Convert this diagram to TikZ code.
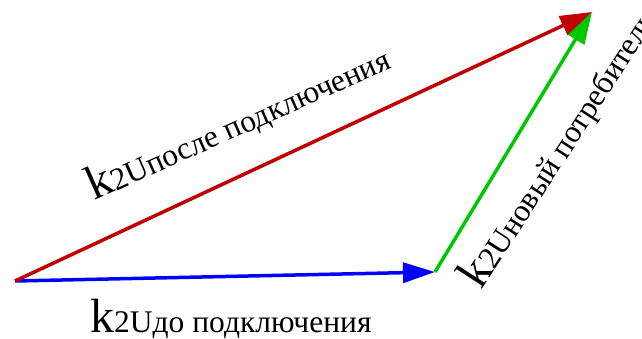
\documentclass[tikz,border=0pt]{standalone}
\usepackage{fontspec}
\setmainfont{Liberation Serif}
\usetikzlibrary{arrows.meta}
\definecolor{vred}{RGB}{192,0,0}
\definecolor{vgreen}{RGB}{0,200,0}
\definecolor{vblue}{RGB}{0,0,255}
\tikzset{
  vec/.style={line width=3.5pt, -{Triangle[length=32pt,width=20pt]}},
  lbl/.style={inner sep=0pt, anchor=base west, font=\fontsize{31.5}{31.5}\selectfont},
}
\newcommand{\bigk}{{\fontsize{48}{48}\selectfont k}}
\begin{document}
\begin{tikzpicture}[x=1pt,y=1pt]
\useasboundingbox (0,0) rectangle (642,338);
\clip (0,0) rectangle (642,338);
\coordinate (O) at (15,57);
\coordinate (A) at (435,66);
\coordinate (B) at (592,326);
\draw[vec, vblue] (O) -- (A);
\draw[vec, vgreen] (A) -- (B);
\draw[vec, vred] (O) -- (B);
\node[lbl] (l1) at (90,6) {\bigk 2Uдо подключения};
\node[lbl, rotate=24] (l2) at (94,137) {\bigk 2Uпосле подключения};
\node[lbl, rotate=57] (l3) at (481,47) {\bigk 2Uновый потребитель};
\end{tikzpicture}
\end{document}
